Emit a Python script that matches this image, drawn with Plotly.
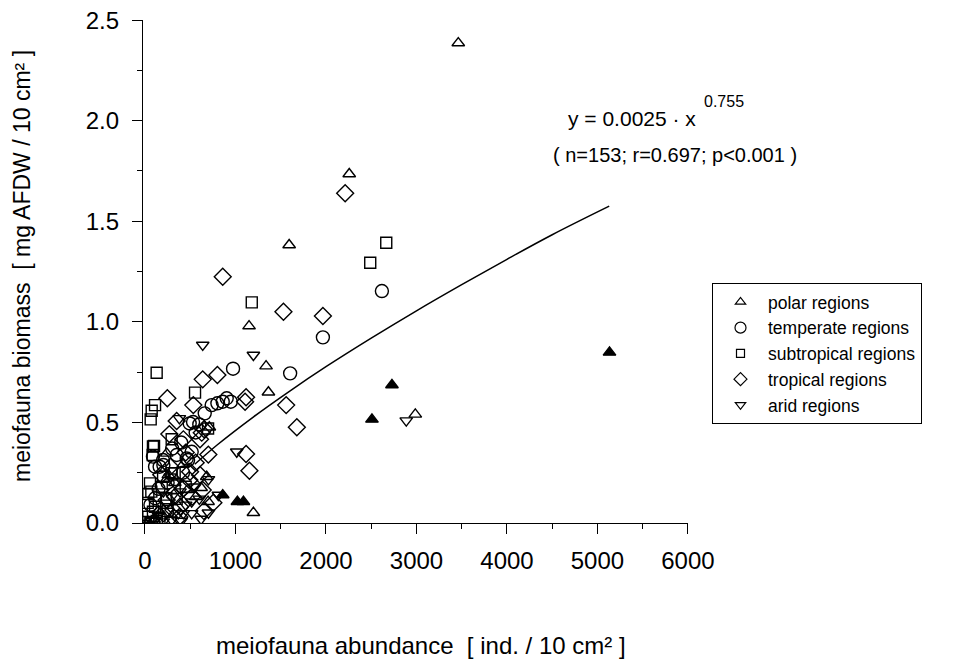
import plotly.graph_objects as go

# ---- data ----
polar_x = [3462, 2257, 1593, 1150, 1338, 1364, 2987, 1198, 240, 711, 682, 258, 697, 40, 100, 330, 470, 560, 150, 420, 620]
polar_y = [2.386, 1.735, 1.382, 0.979, 0.780, 0.650, 0.540, 0.051, 0.346, 0.476, 0.230, 0.239, 0.106, 0.005, 0.020, 0.200, 0.165, 0.130, 0.060, 0.290, 0.175]

polar_filled_x = [5133, 2729, 2508, 859, 1021, 1088]
polar_filled_y = [0.848, 0.686, 0.515, 0.139, 0.106, 0.106]

temperate_x = [2618, 1966, 1604, 973, 903, 948, 859, 800, 737, 660, 531, 494, 516, 461, 203, 111, 350, 111, 476, 199, 88, 162, 560, 600, 400, 300, 250, 60, 420, 150]
temperate_y = [1.153, 0.923, 0.744, 0.767, 0.620, 0.603, 0.603, 0.595, 0.586, 0.545, 0.502, 0.495, 0.354, 0.321, 0.288, 0.280, 0.338, 0.123, 0.313, 0.313, 0.330, 0.280, 0.450, 0.490, 0.400, 0.370, 0.200, 0.090, 0.250, 0.170]

subtropical_x = [2666, 2489, 1180, 129, 553, 111, 74, 63, 100, 85, 295, 295, 55, 185, 37, 111, 37, 697, 88, 70, 236, 88, 5, 328, 250, 160, 30, 200, 450, 350, 60, 130]
subtropical_y = [1.393, 1.294, 1.097, 0.747, 0.648, 0.586, 0.558, 0.515, 0.383, 0.338, 0.416, 0.247, 0.197, 0.180, 0.144, 0.081, 0.031, 0.470, 0.380, 0.156, 0.123, 0.056, 0.005, 0.247, 0.060, 0.020, 0.100, 0.230, 0.180, 0.120, 0.000, 0.010]

tropical_x = [2212, 859, 1530, 1966, 1560, 1678, 247, 638, 800, 1117, 1106, 534, 1117, 1154, 627, 653, 608, 424, 269, 350, 498, 608, 638, 490, 756, 424, 332, 240, 203, 313, 387, 560, 700, 450, 280, 520, 650, 180, 380]
tropical_y = [1.639, 1.224, 1.050, 1.029, 0.586, 0.476, 0.620, 0.714, 0.736, 0.625, 0.603, 0.586, 0.343, 0.260, 0.449, 0.466, 0.416, 0.416, 0.442, 0.507, 0.255, 0.239, 0.164, 0.214, 0.101, 0.172, 0.131, 0.114, 0.048, 0.065, 0.081, 0.300, 0.340, 0.350, 0.280, 0.130, 0.060, 0.240, 0.030]

arid_x = [638, 1198, 2887, 380, 1014, 701, 701, 516, 387, 295, 203, 516, 424, 295, 203, 0, 111, 369, 811, 600, 450, 250, 330, 150, 550, 280, 400, 620, 70, 240]
arid_y = [0.885, 0.835, 0.509, 0.520, 0.354, 0.217, 0.051, 0.048, 0.156, 0.131, 0.156, 0.106, 0.048, 0.015, 0.007, 0.000, 0.015, 0.048, 0.139, 0.120, 0.090, 0.060, 0.200, 0.040, 0.180, 0.230, 0.010, 0.020, 0.010, 0.100]

# fitted curve y = 0.0025 * x^0.755
fit_x = [550, 800, 1200, 1600, 2000, 2500, 3000, 3500, 4000, 4500, 5130]
fit_y = [0.292, 0.389, 0.528, 0.656, 0.777, 0.919, 1.055, 1.185, 1.311, 1.433, 1.575]

x_ticks = [0, 1000, 2000, 3000, 4000, 5000, 6000]
y_ticks = [0.0, 0.5, 1.0, 1.5, 2.0, 2.5]

legend_names = ["polar regions", "temperate regions", "subtropical regions", "tropical regions", "arid regions"]

FONT = "Liberation Sans, Arial, sans-serif"
LW = 1.4

fig = go.Figure()

fig.add_trace(go.Scatter(x=fit_x, y=fit_y, mode="lines", line=dict(color="black", width=1.5, shape="spline"),
                         showlegend=False, hoverinfo="skip"))

def add(name, xs, ys, symbol, size):
    fig.add_trace(go.Scatter(
        x=xs, y=ys, mode="markers", name=name, showlegend=False,
        marker=dict(symbol=symbol, size=size, color="black",
                    line=dict(color="black", width=LW)),
    ))

symbols = ["triangle-up-open", "circle-open", "square-open", "diamond-open", "triangle-down-open"]
add(legend_names[0], polar_x, polar_y, symbols[0], 11)
add(legend_names[1], temperate_x, temperate_y, symbols[1], 13)
add(legend_names[2], subtropical_x, subtropical_y, symbols[2], 11)
add(legend_names[3], tropical_x, tropical_y, symbols[3], 13)
add(legend_names[4], arid_x, arid_y, symbols[4], 11)
add("polar (filled)", polar_filled_x, polar_filled_y, "triangle-up", 11)

# legend-only entries with the small symbols of the reference legend
for name, sym, sz in zip(legend_names, symbols, [9, 11, 8, 10, 9]):
    fig.add_trace(go.Scatter(x=[None], y=[None], mode="markers", name=name,
                             marker=dict(symbol=sym, size=sz, color="black",
                                         line=dict(color="black", width=1.2))))

# page body has an 8px margin: figure is shifted by (8, 8) in the window
fig.update_layout(
    width=946, height=655,
    margin=dict(l=135, r=266, t=12, b=140),
    paper_bgcolor="white", plot_bgcolor="white",
    font=dict(family=FONT, color="black", size=24),
    xaxis=dict(range=[-22, 6000.5], tickvals=x_ticks, ticks="outside", ticklen=10, tickwidth=1.2,
               tickcolor="black", showline=True, linecolor="black", linewidth=1.2, automargin=False,
               showgrid=False, zeroline=False, tickfont=dict(size=24), ticklabelstandoff=6,
               minor=dict(dtick=500, tick0=0, ticks="outside", ticklen=5, tickcolor="black", tickwidth=1.2)),
    yaxis=dict(range=[0, 2.5005], tickvals=y_ticks, tickformat=".1f", ticks="outside", ticklen=10, tickwidth=1.2,
               tickcolor="black", showline=True, linecolor="black", linewidth=1.2, automargin=False,
               showgrid=False, zeroline=False, tickfont=dict(size=24), ticklabelstandoff=8,
               ticklabeloverflow="allow",
               minor=dict(dtick=0.25, tick0=0, ticks="outside", ticklen=5, tickcolor="black", tickwidth=1.2)),
    legend=dict(x=(712 - 143) / 545, y=(523 - 283) / 503, xanchor="left", yanchor="top",
                bordercolor="black", borderwidth=1, bgcolor="white",
                font=dict(size=17.5, family=FONT), itemwidth=45, tracegroupgap=0),
    annotations=[
        dict(text="meiofauna biomass  [ mg AFDW / 10 cm² ]", xref="paper", yref="paper",
             x=(22 - 143) / 545, y=(523 - 266) / 503, textangle=-90, showarrow=False, font=dict(size=23),
             xanchor="center", yanchor="middle"),
        dict(text="meiofauna abundance  [ ind. / 10 cm² ]", xref="paper", yref="paper",
             x=(421 - 143) / 545, y=(523 - 645) / 503, showarrow=False, font=dict(size=24),
             xanchor="center", yanchor="middle"),
        dict(text="y = 0.0025 · x", xref="paper", yref="paper",
             x=(632 - 143) / 545, y=(523 - 118) / 503, showarrow=False, font=dict(size=21),
             xanchor="center", yanchor="middle"),
        dict(text="0.755", xref="paper", yref="paper",
             x=(724 - 143) / 545, y=(523 - 102) / 503, showarrow=False, font=dict(size=16),
             xanchor="center", yanchor="middle"),
        dict(text="( n=153; r=0.697; p<0.001 )", xref="paper", yref="paper",
             x=(675 - 143) / 545, y=(523 - 155) / 503, showarrow=False, font=dict(size=20),
             xanchor="center", yanchor="middle"),
    ],
)

fig.write_html("out.html")
